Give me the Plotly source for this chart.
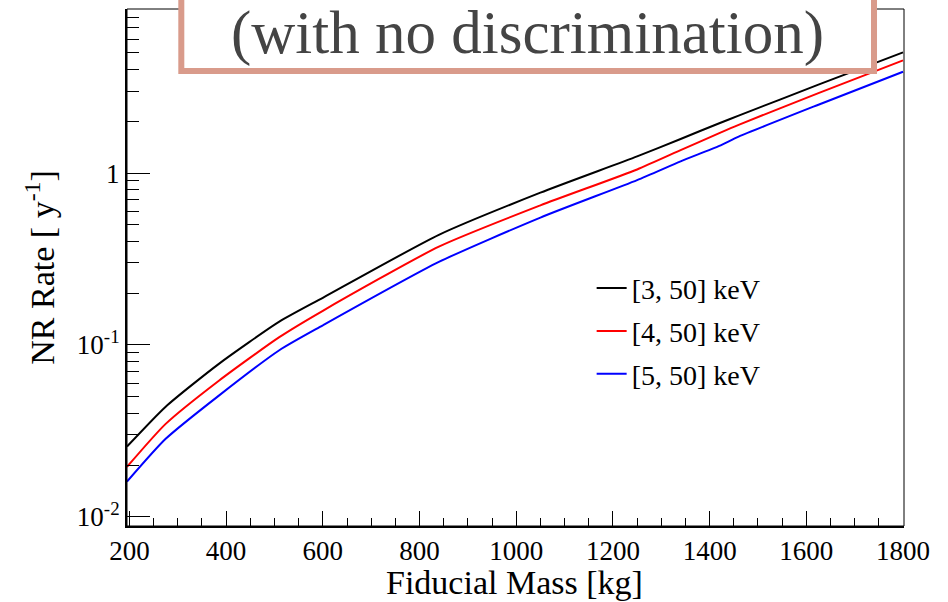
import plotly.graph_objects as go

# Fiducial mass grid [kg]
mass = [195, 275, 385, 510, 600, 840, 1050, 1250, 1340, 1420, 1460, 1625, 1800]

# Nuclear-recoil rate [1/y] for each energy window
rate_3_50 = [0.0256, 0.0437, 0.0776, 0.1365, 0.188, 0.437, 0.769, 1.25, 1.58, 1.95, 2.16, 3.27, 5.04]
rate_4_50 = [0.0195, 0.0347, 0.0619, 0.111, 0.158, 0.373, 0.649, 1.05, 1.36, 1.71, 1.91, 2.92, 4.53]
rate_5_50 = [0.0160, 0.0284, 0.0507, 0.0931, 0.130, 0.304, 0.551, 0.91, 1.17, 1.44, 1.63, 2.50, 3.89]

series_names = ["[3, 50] keV", "[4, 50] keV", "[5, 50] keV"]
series_colors = ["#000000", "#ff0000", "#0000ff"]

y_major = [0.01, 0.1, 1]
y_major_text = ["10<sup>-2</sup>", "10<sup>-1</sup>", "1"]
y_minor = [m * d for d in (0.01, 0.1, 1) for m in range(2, 10)]

FONT = "Liberation Serif, Times New Roman, Times, serif"

fig = go.Figure()
for name, col, vals in zip(series_names, series_colors, [rate_3_50, rate_4_50, rate_5_50]):
    fig.add_trace(go.Scatter(x=mass, y=vals, mode="lines", name=name, legendgroup=name,
                             line=dict(color=col, width=2, shape="spline", smoothing=0.6)))

fig.update_layout(
    width=948, height=602,
    margin=dict(l=127, r=44, t=9, b=76),
    paper_bgcolor="white", plot_bgcolor="white",
    font=dict(family=FONT, size=27, color="black"),
    showlegend=True,
    legend=dict(x=0.598, y=0.508, xanchor="left", yanchor="top",
                bgcolor="rgba(0,0,0,0)", font=dict(family=FONT, size=28),
                traceorder="grouped", tracegroupgap=3.5, itemwidth=30),
)

fig.update_xaxes(
    range=[195, 1802], tickmode="linear", tick0=200, dtick=200,
    ticks="inside", ticklen=15, tickwidth=1, tickcolor="black",
    showline=True, linewidth=2, linecolor="black",
    showgrid=False, zeroline=False,
    tickfont=dict(family=FONT, size=27, color="black"),
    minor=dict(ticks="inside", ticklen=8, tickwidth=1, tickcolor="black",
               dtick=50, tick0=200, showgrid=False),
)

fig.update_yaxes(
    type="log", range=[-2.054, 0.955],
    tickmode="array", tickvals=y_major, ticktext=y_major_text,
    ticks="inside", ticklen=23, tickwidth=1, tickcolor="black",
    showline=True, linewidth=2, linecolor="black",
    showgrid=False, zeroline=False,
    tickfont=dict(family=FONT, size=27, color="black"),
    minor=dict(ticks="inside", ticklen=12, tickwidth=1, tickcolor="black",
               tickvals=y_minor, showgrid=False),
)

# thin frame on top and right
fig.add_shape(type="rect", xref="paper", yref="paper", x0=0, x1=1, y0=0, y1=1,
              line=dict(color="black", width=1), layer="above")

# boxed caption at the top
fig.add_shape(type="rect", xref="paper", yref="paper",
              x0=0.0699, x1=0.9614, y0=0.880, y1=1.05,
              line=dict(color="#d99b8b", width=6), fillcolor="white", layer="above")
fig.add_annotation(text="(with no discrimination)", xref="paper", yref="paper",
                   x=0.516, y=0.953, xanchor="center", yanchor="middle", showarrow=False,
                   font=dict(family=FONT, size=61, color="#444444"))

# axis titles
fig.add_annotation(text="Fiducial Mass [kg]", xref="paper", yref="paper",
                   x=0.4987, y=-0.110, xanchor="center", yanchor="middle", showarrow=False,
                   font=dict(family=FONT, size=34, color="black"))
fig.add_annotation(text="NR Rate [ y<sup>-1</sup>]", xref="paper", yref="paper",
                   x=-0.113, y=0.5, xanchor="center", yanchor="middle", showarrow=False,
                   textangle=-90, font=dict(family=FONT, size=34, color="black"))

fig.write_html("out.html")
